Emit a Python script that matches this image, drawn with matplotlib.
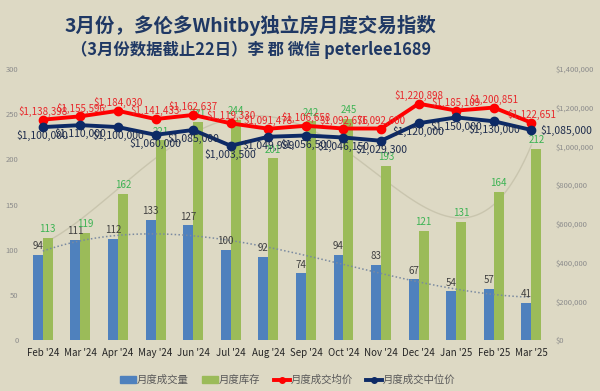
import numpy as np
import matplotlib
matplotlib.use('Agg')
import matplotlib.pyplot as plt
from matplotlib.lines import Line2D
from matplotlib.patches import Patch

plt.rcParams['font.family'] = ['Noto Sans CJK SC', 'DejaVu Sans']

# data
months = ["Feb '24", "Mar '24", "Apr '24", "May '24", "Jun '24", "Jul '24", "Aug '24",
          "Sep '24", "Oct '24", "Nov '24", "Dec '24", "Jan '25", "Feb '25", "Mar '25"]
sales = [94, 111, 112, 133, 127, 100, 92, 74, 94, 83, 67, 54, 57, 41]
inventory = [113, 119, 162, 221, 241, 244, 201, 242, 245, 193, 121, 131, 164, 212]
avg_price = [1138398, 1155596, 1184030, 1141433, 1162637, 1119330, 1091478,
             1106658, 1092676, 1092600, 1220898, 1185109, 1200851, 1122651]
median_price = [1100000, 1110000, 1100000, 1060000, 1085000, 1003500, 1049999,
                1056500, 1046150, 1029300, 1120000, 1150000, 1130000, 1085000]

bg = '#DDD9C4'
c_blue = '#4F81BD'
c_green = '#9BBB59'
c_red = '#FF0000'
c_navy = '#0D2A66'

fig = plt.figure(figsize=(6, 3.91), dpi=100, facecolor=bg)
ax = fig.add_axes([0.04, 0.1304, 0.877, 0.6931], facecolor=bg)
ax2 = ax.twinx()

x = np.arange(len(months))
w = 0.265
ax.bar(x - w / 2, sales, w, color=c_blue, zorder=2)
ax.bar(x + w / 2, inventory, w, color=c_green, zorder=2)

# trendlines (polynomial, like excel)
xs = np.linspace(0, len(months) - 1, 200)
p_s = np.polyfit(x, sales, 3)
ax.plot(xs, np.polyval(p_s, xs), ls=(0, (1, 1.5)), color='#7A8AA0', lw=1.1, zorder=3)
p_i = np.polyfit(x, inventory, 5)
ax.plot(xs, np.polyval(p_i, xs), ls='-', color='#C9C5AE', lw=1.0, zorder=1.5)

for xi, v in zip(x, sales):
    ax.text(xi - w / 2, v + 4, str(v), ha='center', va='bottom', fontsize=7,
            color='#404040', zorder=4)
for xi, v in zip(x, inventory):
    ax.text(xi + w / 2, v + 4, str(v), ha='center', va='bottom', fontsize=7,
            color='#3CB353', zorder=4)

ax.set_ylim(0, 300)
ax.set_xlim(-0.5, len(months) - 0.5)
ax.set_yticks(range(0, 301, 50))
ax.set_xticks(x)
ax.set_xticklabels(months, fontsize=7, color='#262626')
ax.tick_params(axis='y', labelsize=5.5, labelcolor='#8C8C8C', length=0, pad=4)
ax.tick_params(axis='x', length=0, pad=6)

ax2.plot(x, avg_price, color=c_red, lw=2.8, marker='o', ms=6, zorder=5)
ax2.plot(x, median_price, color=c_navy, lw=2.8, marker='o', ms=6, zorder=5)
for i, v in enumerate(avg_price):
    ax2.text(i, v + 14000, '${:,}'.format(v), ha='center', va='bottom',
             fontsize=7, color='#E8262A', zorder=6)
for i, v in enumerate(median_price):
    if i == len(median_price) - 1:
        ax2.text(i + 0.25, v, '${:,}'.format(v), ha='left', va='center',
                 fontsize=7.5, color='#1F2D4D', zorder=6)
    else:
        ax2.text(i, v - 16000, '${:,}'.format(v), ha='center', va='top',
                 fontsize=7.5, color='#1F2D4D', zorder=6)

ax2.set_ylim(0, 1400000)
ax2.set_yticks(range(0, 1400001, 200000))
ax2.set_yticklabels(['${:,}'.format(v) for v in range(0, 1400001, 200000)])
ax2.tick_params(axis='y', labelsize=5.5, labelcolor='#8C8C8C', length=0, pad=4)

for a in (ax, ax2):
    for s in a.spines.values():
        s.set_visible(False)

fig.text(0.417, 0.936, '3月份，多伦多Whitby独立房月度交易指数', ha='center', va='center',
         fontsize=14, fontweight='bold', color='#1F3864')
fig.text(0.418, 0.872, '（3月份数据截止22日）李 郡 微信 peterlee1689', ha='center',
         va='center', fontsize=11.8, fontweight='bold', color='#1F3864')

handles = [Patch(color=c_blue), Patch(color=c_green),
           Line2D([], [], color=c_red, lw=2.8, marker='o', ms=4),
           Line2D([], [], color=c_navy, lw=2.8, marker='o', ms=4)]
labels = ['月度成交量', '月度库存', '月度成交均价', '月度成交中位价']
fig.legend(handles, labels, loc='center', bbox_to_anchor=(0.48, 0.028), ncol=4,
           frameon=False, fontsize=7.5, handlelength=1.5, handletextpad=0.1,
           columnspacing=1.3, labelcolor='#595959')

fig.savefig('out.png', dpi=100, facecolor=bg)
